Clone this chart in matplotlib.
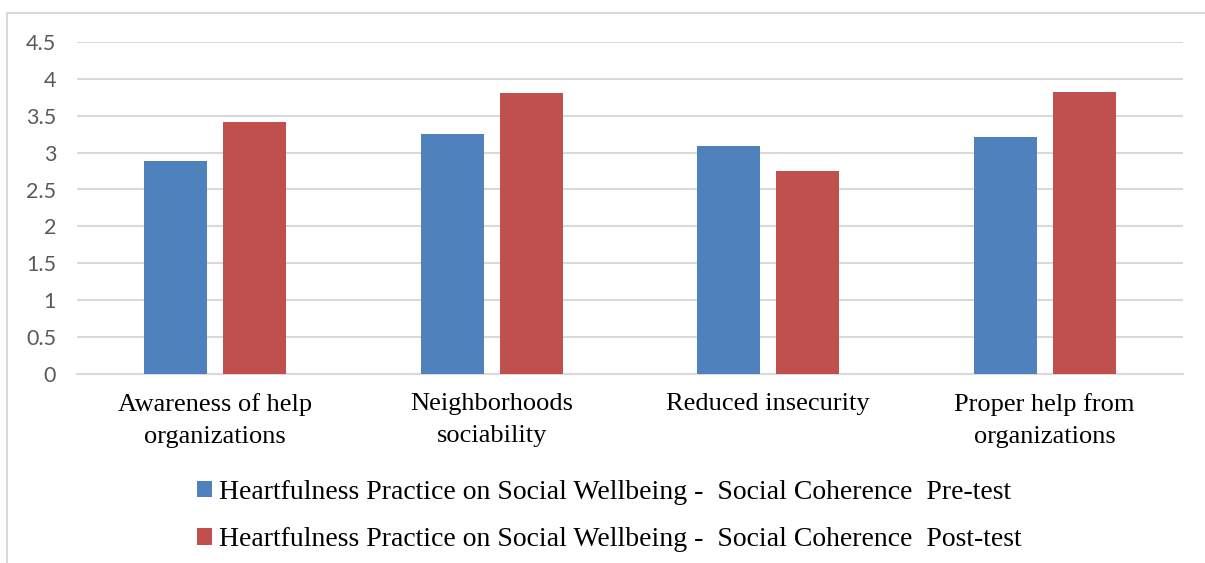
import matplotlib.pyplot as plt
import numpy as np
from matplotlib.patches import Rectangle

# data
categories = ["Awareness of help\norganizations", "Neighborhoods\nsociability",
              "Reduced insecurity", "Proper help from\norganizations"]
pre_test = [2.89, 3.25, 3.09, 3.21]
post_test = [3.42, 3.81, 2.75, 3.82]
series_names = ["Heartfulness Practice on Social Wellbeing -  Social Coherence  Pre-test",
                "Heartfulness Practice on Social Wellbeing -  Social Coherence  Post-test"]
y_ticks = [0, 0.5, 1, 1.5, 2, 2.5, 3, 3.5, 4, 4.5]

blue = "#4F81BD"
red = "#C0504D"
grid_col = "#D9D9D9"

fig = plt.figure(figsize=(12.05, 5.63), dpi=100)
ax = fig.add_axes([77 / 1205, 189.5 / 563, 1106 / 1205, 331.2 / 563])

x = np.arange(len(categories))
w = 0.228
off = 0.143
ax.bar(x - off, pre_test, w, color=blue, label=series_names[0], zorder=3)
ax.bar(x + off, post_test, w, color=red, label=series_names[1], zorder=3)

ax.set_xlim(-0.5, 3.5)
ax.set_ylim(0, 4.5)
ax.set_yticks(y_ticks)
ax.set_yticklabels([f"{v:g}" for v in y_ticks], fontfamily="Lato", fontsize=15.5, color="#595959")
ax.set_xticks(x)
ax.set_xticklabels(categories, fontfamily="Liberation Serif", fontsize=19, color="black",
                   linespacing=1.6)
ax.tick_params(axis="both", length=0)
ax.tick_params(axis="y", pad=15)
ax.tick_params(axis="x", pad=14)

ax.yaxis.grid(True, color=grid_col, linewidth=1.5, zorder=0)
for s in ["top", "right", "left"]:
    ax.spines[s].set_visible(False)
ax.spines["bottom"].set_color(grid_col)
ax.spines["bottom"].set_linewidth(1.5)

# legend below plot
fig.legend(loc="center", bbox_to_anchor=(609 / 1205, 1 - 516 / 563), ncol=1, frameon=False,
           prop={"family": "Liberation Serif", "size": 20}, handlelength=0.55, handleheight=0.55,
           handletextpad=0.25, labelspacing=0.8)

# outer chart frame
fig.add_artist(Rectangle((7 / 1205, -0.1), 1.2, 1.1 - 13 / 563, transform=fig.transFigure,
                         fill=False, edgecolor=grid_col, linewidth=1.5))

fig.savefig("out.png", dpi=100)
